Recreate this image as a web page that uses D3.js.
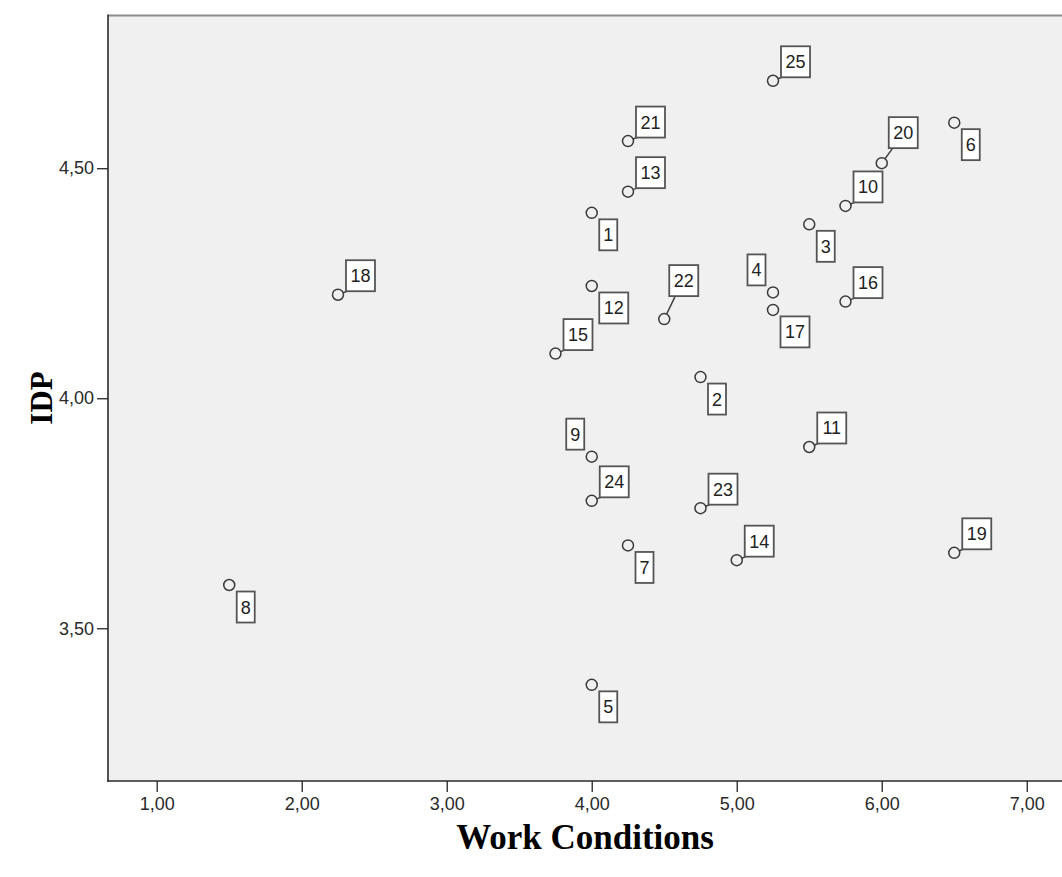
<!DOCTYPE html>
<html>
<head>
<meta charset="utf-8">
<script src="https://cdn.jsdelivr.net/npm/d3@7"></script>
<style>
  html, body { margin: 0; padding: 0; background: #ffffff; }
  svg { display: block; }
</style>
</head>
<body>
<svg id="chart" width="1062" height="877"></svg>
<script>
// Case numbers and their scores
const caseIds = [1, 2, 3, 4, 5, 6, 7, 8, 9, 10, 11, 12, 13, 14, 15, 16, 17, 18, 19, 20, 21, 22, 23, 24, 25];
const workConditions = [4.00, 4.75, 5.50, 5.25, 4.00, 6.50, 4.25, 1.50, 4.00, 5.75, 5.50, 4.00, 4.25,
                        5.00, 3.75, 5.75, 5.25, 2.25, 6.50, 6.00, 4.25, 4.50, 4.75, 4.00, 5.25];
const idpScores = [4.403, 4.046, 4.378, 4.230, 3.377, 4.599, 3.680, 3.594, 3.873, 4.418, 3.894, 4.244, 4.449,
                   3.648, 4.097, 4.210, 4.192, 4.225, 3.664, 4.511, 4.559, 4.172, 3.761, 3.777, 4.690];

// Axis ticks
const xTickValues = [1, 2, 3, 4, 5, 6, 7];
const xTickLabels = ["1,00", "2,00", "3,00", "4,00", "5,00", "6,00", "7,00"];
const yTickValues = [3.5, 4.0, 4.5];
const yTickLabels = ["3,50", "4,00", "4,50"];

// Where each case label sits relative to its marker
const labelSide = {
  1: "se", 2: "se", 3: "se", 4: "nw", 5: "se", 6: "se", 7: "se", 8: "se", 9: "nw",
  10: "ne", 11: "ne", 12: "se", 13: "ne", 14: "ne", 15: "ne", 16: "ne", 17: "se",
  18: "ne", 19: "ne", 20: "ne2", 21: "ne", 22: "up", 23: "ne", 24: "ne", 25: "ne"
};

const svg = d3.select("#chart");
const plot = { left: 108, top: 15, right: 1062, bottom: 781 };

const x = d3.scaleLinear().domain([0.664, 7.243]).range([plot.left, plot.right]);
const y = d3.scaleLinear().domain([3.168, 4.833]).range([plot.bottom, plot.top]);

const tickFont = "'Liberation Sans', Arial, sans-serif";
const titleFont = "'Liberation Serif', 'Times New Roman', serif";

// Plot panel
svg.append("rect")
  .attr("x", plot.left).attr("y", plot.top)
  .attr("width", plot.right - plot.left).attr("height", plot.bottom - plot.top)
  .attr("fill", "#f0f0f0");

svg.append("line")
  .attr("x1", plot.left).attr("x2", plot.right)
  .attr("y1", plot.top + 0.5).attr("y2", plot.top + 0.5)
  .attr("stroke", "#8c8c8c").attr("stroke-width", 2.2);

// Axes
const xAxis = d3.axisBottom(x)
  .tickValues(xTickValues)
  .tickFormat((d, i) => xTickLabels[i])
  .tickSize(11).tickPadding(5);

const yAxis = d3.axisLeft(y)
  .tickValues(yTickValues)
  .tickFormat((d, i) => yTickLabels[i])
  .tickSize(11).tickPadding(3);

const gx = svg.append("g").attr("transform", `translate(0,${plot.bottom})`).call(xAxis);
const gy = svg.append("g").attr("transform", `translate(${plot.left},0)`).call(yAxis);

[gx, gy].forEach(g => {
  g.select(".domain").remove();
  g.selectAll(".tick line").attr("stroke", "#333").attr("stroke-width", 1.4);
  g.selectAll(".tick text")
    .attr("fill", "#2a2a2a")
    .style("font-family", tickFont)
    .style("font-size", "18px");
});

svg.append("line")
  .attr("x1", plot.left).attr("x2", plot.left)
  .attr("y1", plot.top - 0.5).attr("y2", plot.bottom + 0.7)
  .attr("stroke", "#2a2a2a").attr("stroke-width", 1.6);
svg.append("line")
  .attr("x1", plot.left - 0.8).attr("x2", plot.right)
  .attr("y1", plot.bottom).attr("y2", plot.bottom)
  .attr("stroke", "#2a2a2a").attr("stroke-width", 1.6);

// Points with labels
const points = caseIds.map((id, i) => ({ id, wc: workConditions[i], idp: idpScores[i] }));
const r = 5.5;
const boxH = 31;

function labelBox(p) {
  const cx = x(p.wc), cy = y(p.idp);
  const w = 7 + 11 * String(p.id).length;
  const side = labelSide[p.id];
  let bx, by, ax = null, ay = null;
  if (side === "se") { bx = cx + 7.5; by = cy + 6.5; }
  else if (side === "nw") { bx = cx - 7.5 - w; by = cy - 7 - boxH; }
  else if (side === "ne") { bx = cx + 8; by = cy - 3.5 - boxH; ax = bx + 1; ay = by + boxH; }
  else if (side === "ne2") { bx = cx + 7; by = cy - 15 - boxH; ax = bx + 4; ay = by + boxH; }
  else { bx = cx + 5; by = cy - 23 - boxH; ax = bx + 6; ay = by + boxH; }
  return { cx, cy, w, bx, by, ax, ay };
}

const g = svg.append("g");
points.forEach(p => {
  const b = labelBox(p);
  if (b.ax !== null) {
    const dx = b.ax - b.cx, dy = b.ay - b.cy;
    const len = Math.hypot(dx, dy);
    if (len > r) {
      g.append("line")
        .attr("x1", b.cx + dx / len * r).attr("y1", b.cy + dy / len * r)
        .attr("x2", b.ax).attr("y2", b.ay)
        .attr("stroke", "#444").attr("stroke-width", 1.5);
    }
  }
  g.append("circle")
    .attr("cx", b.cx).attr("cy", b.cy).attr("r", r)
    .attr("fill", "none").attr("stroke", "#3a3a3a").attr("stroke-width", 1.5);
  g.append("rect")
    .attr("x", b.bx).attr("y", b.by).attr("width", b.w).attr("height", boxH)
    .attr("fill", "#ffffff").attr("stroke", "#555").attr("stroke-width", 1.8);
  g.append("text")
    .attr("x", b.bx + b.w / 2).attr("y", b.by + boxH / 2 + 6.5)
    .attr("text-anchor", "middle")
    .attr("fill", "#222")
    .style("font-family", tickFont).style("font-size", "18px")
    .text(p.id);
});

// Axis titles
svg.append("text")
  .attr("x", (plot.left + plot.right) / 2).attr("y", 849)
  .attr("text-anchor", "middle")
  .style("font-family", titleFont).style("font-weight", "bold").style("font-size", "35px")
  .attr("fill", "#000")
  .text("Work Conditions");

svg.append("text")
  .attr("transform", `translate(52,398) rotate(-90)`)
  .attr("text-anchor", "middle")
  .style("font-family", titleFont).style("font-weight", "bold").style("font-size", "31px")
  .attr("fill", "#000")
  .text("IDP");
</script>
</body>
</html>
